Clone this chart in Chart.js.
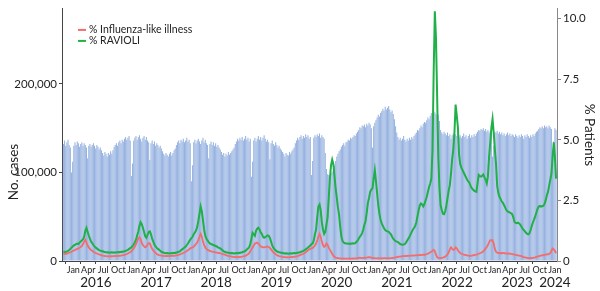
<!DOCTYPE html>
<html>
<head>
<meta charset="utf-8">
<script src="https://cdn.jsdelivr.net/npm/chart.js@4.4.1/dist/chart.umd.min.js"></script>
<style>
  html, body { margin: 0; padding: 0; background: #fff; }
  canvas { display: block; }
</style>
</head>
<body>
<canvas id="chart" width="600" height="291"></canvas>
<script>
// weekly series, first week starts 2 Nov 2015
var firstWeek = Date.UTC(2015, 10, 2);

// No. cases per week, in thousands
var casesK = [
  132,136,130,134,137,131,128, 100,112,
  130,134,131,135,133,129,132,134,130,133,131,128, 116,
  130,132,129,131,133,130,127,131,129,126,128,125,
  122,119,123,121,118,122,120,124,121,125,
  129,131,133,130,134,136,133,137,135,138,140,137,139,141,136, 96,110,
  136,139,141,137,140,142,138,135,139,141,137,140,136,134, 114,
  133,136,132,135,130,133,131,128,130,127,
  124,121,119,122,120,118,121,123,119,122,125,127,
  131,134,136,133,137,135,138,134,136,139,135,137,133, 90,108,
  134,137,133,136,138,135,132,136,139,134,137,133,131, 116,
  132,135,131,134,130,133,129,131,128,126,
  123,120,122,118,121,119,123,120,122,124,126,128,
  132,135,138,136,139,137,140,136,138,141,137,139,135,138, 95,112,
  136,139,135,138,141,137,140,136,139,142,138,135,137,134, 115,
  133,136,132,130,134,131,128,130,127,125,123,
  121,118,122,120,119,123,121,124,126,128,
  133,136,139,137,140,142,138,141,139,143,140,142,138,140, 97,113,
  139,142,140,143,141,144,139,142,140,138,122,104,
  98,97,96,99,101,104,108,113,
  118,121,124,126,129,131,133,130,134,
  135,137,136,139,138,140,142,141,144,146,
  148,151,150,153,152,154,151,155,153,156,154,150, 128,
  152,156,159,162,165,163,167,169,172,170,174,171,
  173,175,171,168,170,166,160,152,145,
  140,137,139,136,138,141,137,135,138,136,139,137,140,138,141,143,
  145,148,147,150,153,151,155,157,156,159,162,160,164,167, 150,
  170,168,166,163,165,158,
  148,145,143,146,144,142,145,141,143,138,142,144,140,143,
  141,143,140,142,139,141,144,140,142,138,141,143,139,142,140,143,141,
  144,146,148,147,149,148,150,147,149,146,148,145,147,144, 118,130,
  146,145,147,144,146,143,145,142,144,141,143,145,142,144,141,143,
  142,140,143,141,139,142,140,143,141,138,142,140,143,141,139,142,140,143,141,144,146,
  147,149,151,150,152,150,153,151,152,150,153,151,149, 120,135,
  150,148
];

// % Influenza-like illness
var iliPct = [
  0.28,0.29,0.30,0.30,0.32,0.34,0.36,0.38,0.40,0.44,0.45,0.48,0.50,0.52,0.55,0.58,0.62,0.70,0.80,0.88,
  0.76,0.64,0.56,0.50,0.45,0.42,0.38,0.35,0.33,0.31,0.29,0.27,0.25,0.24,0.22,
  0.21,0.20,0.20,0.19,0.20,0.19,0.20,0.19,0.20,0.20,0.21,0.20,0.21,0.22,0.21,0.22,0.23,0.24,0.25,0.27,
  0.29,0.31,0.34,0.36,0.40,0.46,
  0.52,0.60,0.70,0.82,0.92,0.98,0.90,0.74,0.66,0.60,0.56,0.60,0.68,0.74,0.72,0.60,0.50,0.44,0.38,0.33,0.29,
  0.26,0.24,0.23,0.22,0.21,0.21,0.20,0.21,0.20,0.21,0.20,0.21,0.21,0.22,0.21,0.22,0.23,0.24,0.25,0.27,
  0.29,0.31,0.33,0.35,0.38,0.41,0.44,0.48,0.52,
  0.54,0.56,0.60,0.64,0.70,0.76,0.86,1.00,1.12,1.00,0.80,0.66,0.56,0.50,0.46,0.44,0.42,0.40,0.39,0.38,
  0.37,0.36,0.35,0.34,0.33,0.32,0.30,0.28,0.27,0.26,
  0.24,0.22,0.21,0.20,0.19,0.18,0.17,0.16,0.17,0.16,0.16,0.17,0.16,0.17,0.18,0.19,0.20,0.22,0.25,0.28,
  0.32,0.40,0.48,0.56,0.64,0.72,0.74,0.76,0.72,0.66,0.60,0.58,0.56,0.56,0.57,0.58,0.60,0.58,0.54,0.48,
  0.42,0.36,0.32,0.28,0.25,0.22,0.20,0.19,0.18,0.17,
  0.16,0.16,0.15,0.16,0.15,0.16,0.16,0.17,0.16,0.17,0.18,0.19,0.20,0.22,0.24,0.26,0.28,0.30,0.33,0.36,
  0.40,0.44,0.48,0.50,0.52,
  0.54,0.58,0.64,0.72,0.84,1.00,1.12,1.00,0.80,0.66,0.58,0.62,0.72,0.66,0.55,0.46,0.38,0.30,0.22,0.17,
  0.14,0.13,0.12,0.11,0.11,0.10,0.10,0.11,0.10,0.10,
  0.10,0.10,0.11,0.10,0.10,0.11,0.10,0.11,0.11,0.12,
  0.13,0.14,0.13,0.12,0.13,0.14,0.13,0.14,0.15,0.16,
  0.15,0.14,0.13,0.12,0.12,0.11,0.11,0.12,0.11,0.11,
  0.12,0.11,0.12,0.12,0.11,0.12,0.12,0.11,0.12,0.12,
  0.13,0.14,0.15,0.16,0.17,0.18,0.18,0.19,0.20,0.20,
  0.21,0.20,0.21,0.22,0.21,0.22,0.22,0.23,0.22,0.23,
  0.24,0.23,0.24,0.25,0.24,0.25,0.26,0.25,0.27,0.28,0.30,0.33,0.36,
  0.38,0.42,0.46,0.40,0.26,0.16,0.13,0.12,0.12,0.13,0.14,0.16,0.18,0.22,0.28,0.36,0.48,0.56,0.50,0.46,
  0.48,0.56,0.52,0.44,0.38,0.33,0.30,
  0.28,0.26,0.25,0.24,0.23,0.22,0.21,0.21,0.22,0.23,0.24,0.25,0.26,0.28,0.30,0.32,0.34,0.36,0.40,0.45,
  0.52,0.58,0.66,0.78,0.86,0.84,0.86,0.72,0.50,0.38,0.34,0.33,0.32,0.33,0.32,
  0.33,0.32,0.31,0.32,0.30,0.31,0.30,0.29,0.28,0.27,0.26,0.25,0.24,0.23,0.22,0.21,0.20,0.18,0.16,0.15,
  0.14,0.13,0.12,0.12,0.13,0.12,0.13,0.14,0.15,0.17,0.18,0.20,0.21,0.22,0.24,0.23,0.25,0.26,0.28,0.27,
  0.30,0.32,0.42,0.52,0.48,0.42,0.32
];

// % RAVIOLI
var ravioliPct = [
  0.36,0.38,0.37,0.40,0.42,0.45,0.50,0.55,0.60,0.64,0.66,0.70,0.72,0.70,0.76,0.80,0.84,0.90,1.00,1.25,
  1.37,1.20,1.05,0.92,0.80,0.74,0.66,0.60,0.55,0.52,0.48,0.45,0.43,0.41,0.40,
  0.38,0.37,0.36,0.35,0.36,0.34,0.35,0.36,0.35,0.34,0.36,0.35,0.36,0.37,0.36,0.38,0.37,0.39,0.40,0.42,
  0.44,0.46,0.50,0.53,0.56,0.62,
  0.68,0.76,0.88,1.05,1.22,1.45,1.60,1.52,1.37,1.20,1.02,0.96,1.08,1.20,1.22,1.10,0.92,0.80,0.68,0.60,0.54,
  0.50,0.46,0.42,0.38,0.36,0.34,0.33,0.32,0.33,0.32,0.31,0.32,0.33,0.32,0.34,0.33,0.35,0.36,0.38,0.40,
  0.44,0.48,0.52,0.56,0.60,0.66,0.72,0.80,0.88,
  0.94,1.00,1.10,1.18,1.26,1.40,1.65,1.95,2.25,2.05,1.70,1.30,1.05,0.92,0.85,0.78,0.72,0.70,0.68,0.66,
  0.64,0.62,0.60,0.56,0.54,0.52,0.48,0.44,0.40,0.38,
  0.36,0.35,0.34,0.33,0.32,0.33,0.32,0.31,0.32,0.33,0.32,0.34,0.33,0.35,0.36,0.38,0.40,0.43,0.47,0.52,
  0.56,0.70,0.92,1.16,1.10,1.04,1.25,1.33,1.37,1.30,1.18,1.12,1.00,0.96,0.98,1.02,1.06,1.04,0.95,0.80,
  0.64,0.55,0.48,0.44,0.40,0.38,0.36,0.35,0.34,0.33,
  0.32,0.31,0.32,0.31,0.30,0.31,0.32,0.31,0.32,0.33,0.32,0.33,0.34,0.35,0.36,0.38,0.40,0.42,0.45,0.48,
  0.52,0.56,0.60,0.64,0.70,
  0.72,0.85,1.10,1.30,1.80,2.25,2.33,2.10,1.60,1.30,1.12,1.20,1.50,1.80,2.60,3.40,3.95,4.18,4.00,3.50,
  3.00,2.60,2.20,1.90,1.40,1.00,0.82,0.76,0.73,0.72,
  0.72,0.71,0.72,0.70,0.72,0.73,0.72,0.74,0.78,0.84,
  0.92,1.00,1.06,1.15,1.30,1.50,1.65,2.00,2.40,2.60,
  2.85,2.95,3.00,3.40,3.75,3.30,2.80,2.30,1.95,1.70,
  1.55,1.45,1.35,1.28,1.24,1.22,1.20,1.15,1.10,1.00,
  0.92,0.86,0.82,0.80,
  0.78,0.74,0.70,0.68,0.67,0.68,0.70,0.76,0.84,0.92,1.00,1.10,1.20,1.30,1.36,1.45,1.60,1.85,2.10,2.30,
  2.37,2.33,2.25,2.35,2.50,2.65,2.85,3.05,3.20,
  3.40,4.60,7.80,10.30,9.20,6.80,4.30,3.00,2.30,2.10,
  1.95,1.93,2.05,2.30,2.60,2.90,3.13,3.60,4.20,4.60,5.30,6.45,6.00,5.50,4.40,4.00,3.85,
  3.75,3.65,3.55,3.45,3.35,3.28,3.22,3.10,3.00,2.95,2.90,2.87,2.85,3.20,3.55,3.50,3.48,3.52,3.57,3.45,
  3.35,3.20,3.50,4.30,4.86,5.50,5.86,5.30,4.60,4.00,3.10,2.80,2.65,2.55,2.45,
  2.40,2.30,2.20,2.10,2.05,2.02,2.00,1.97,1.93,1.80,1.62,1.57,1.56,1.58,1.55,1.50,1.42,1.33,1.28,1.22,
  1.16,1.12,1.10,1.15,1.28,1.45,1.60,1.72,1.85,2.00,2.15,2.25,2.27,2.24,2.26,2.28,2.35,2.50,2.70,2.85,
  3.10,3.35,3.60,4.30,4.90,4.30,3.40
];

// tick labels
var monthLabels = ['Jan', 'Apr', 'Jul', 'Oct'];
var yearLabels = ['2016', '2017', '2018', '2019', '2020', '2021', '2022', '2023', '2024'];
var casesTicks = [0, 100000, 200000];
var pctTicks = [0, 2.5, 5, 7.5, 10];

function decYear(ms) {
  var d = new Date(ms);
  var y = d.getUTCFullYear();
  var s = Date.UTC(y, 0, 1), e = Date.UTC(y + 1, 0, 1);
  return y + (ms - s) / (e - s);
}

var weekX = casesK.map(function(v, i) { return decYear(firstWeek + i * 7 * 864e5); });

var quarterTicks = [];
for (var y = 2016; y <= 2023; y++) {
  for (var m = 0; m < 12; m += 3) quarterTicks.push(decYear(Date.UTC(y, m, 1)));
}
quarterTicks.push(2024);

var yearTicks = yearLabels.map(function(l) {
  var y = parseInt(l, 10);
  return y === 2024 ? 2024 : y + 0.375;
});

function pts(arr, scale) {
  return arr.map(function(v, i) { return {x: weekX[i], y: v * scale}; });
}

function fixedTicks(list) {
  return function(s) { s.ticks = list.map(function(v) { return {value: v}; }); };
}

Chart.defaults.font.family = 'Lato, "Liberation Sans", sans-serif';
Chart.defaults.color = '#222';

var axisTitles = {
  id: 'axisTitles',
  afterDraw: function(chart) {
    var ctx = chart.ctx, a = chart.chartArea;
    ctx.save();
    ctx.fillStyle = '#222';
    ctx.font = '13.5px Lato, sans-serif';
    ctx.textAlign = 'center';
    ctx.textBaseline = 'middle';
    ctx.translate(14, 172);
    ctx.rotate(-Math.PI / 2);
    ctx.fillText('No. cases', 0, 0);
    ctx.restore();

    ctx.save();
    ctx.fillStyle = '#222';
    ctx.font = '13.5px Lato, sans-serif';
    ctx.textAlign = 'center';
    ctx.textBaseline = 'middle';
    ctx.translate(589, (a.top + a.bottom) / 2);
    ctx.rotate(Math.PI / 2);
    ctx.fillText('% Patients', 0, 0);
    ctx.restore();

    // legend for the two lines
    ctx.save();
    ctx.font = '10.5px Lato, sans-serif';
    ctx.textBaseline = 'middle';
    var ly = a.top + 21;
    chart.data.datasets.forEach(function(ds) {
      if (ds.type !== 'line') return;
      ctx.strokeStyle = ds.borderColor;
      ctx.lineWidth = 2;
      ctx.beginPath();
      ctx.moveTo(a.left + 16, ly);
      ctx.lineTo(a.left + 24, ly);
      ctx.stroke();
      ctx.fillStyle = '#222';
      ctx.fillText(ds.label, a.left + 27, ly);
      ly += 11;
    });
    ctx.restore();
  }
};

new Chart(document.getElementById('chart'), {
  type: 'bar',
  data: {
    datasets: [
      {
        type: 'line',
        label: '% Influenza-like illness',
        data: pts(iliPct, 1),
        yAxisID: 'y2',
        borderColor: 'rgb(244,108,108)',
        borderWidth: 1.8,
        pointRadius: 0,
        order: 0
      },
      {
        type: 'line',
        label: '% RAVIOLI',
        data: pts(ravioliPct, 1),
        yAxisID: 'y2',
        borderColor: 'rgb(32,176,72)',
        borderWidth: 2,
        pointRadius: 0,
        order: 0
      },
      {
        type: 'bar',
        label: 'No. cases',
        data: pts(casesK, 1000),
        yAxisID: 'y',
        backgroundColor: 'rgb(150,178,224)',
        barPercentage: 0.9,
        categoryPercentage: 1,
        order: 1
      }
    ]
  },
  options: {
    responsive: false,
    animation: false,
    devicePixelRatio: 1,
    layout: { padding: { top: 3, left: 0, right: 0, bottom: 0 } },
    plugins: { legend: { display: false }, tooltip: { enabled: false } },
    scales: {
      x: {
        type: 'linear',
        position: 'bottom',
        weight: 0,
        min: 2015.812,
        max: 2024.035,
        offset: false,
        afterBuildTicks: fixedTicks(quarterTicks),
        afterFit: function(s) { s.height = 14; },
        ticks: {
          autoSkip: false, maxRotation: 0, padding: 1,
          font: { size: 9 },
          callback: function(v, i) { return monthLabels[i % 4]; }
        },
        grid: { drawOnChartArea: false, tickLength: 3, color: '#444' },
        border: { display: true, color: '#444' }
      },
      x2: {
        type: 'linear',
        position: 'bottom',
        weight: 1,
        min: 2015.812,
        max: 2024.035,
        offset: false,
        afterBuildTicks: fixedTicks(yearTicks),
        afterFit: function(s) { s.height = 16; },
        ticks: {
          autoSkip: false, maxRotation: 0, padding: 0,
          font: { size: 13.5 },
          callback: function(v, i) { return yearLabels[i]; }
        },
        grid: { display: false, drawTicks: false },
        border: { display: false }
      },
      y: {
        position: 'left',
        min: 0,
        max: 284600,
        afterBuildTicks: fixedTicks(casesTicks),
        afterFit: function(s) { s.width = 62; },
        ticks: {
          padding: 2,
          font: { size: 11.5 },
          callback: function(v) { return v.toLocaleString('en-US'); }
        },
        grid: { drawOnChartArea: false, tickLength: 3, color: '#444' },
        border: { display: true, color: '#444' }
      },
      y2: {
        position: 'right',
        min: 0,
        max: 10.4,
        afterBuildTicks: fixedTicks(pctTicks),
        afterFit: function(s) { s.width = 43; },
        ticks: {
          padding: 2,
          font: { size: 11.5 },
          callback: function(v) { return v === 0 ? '0' : v.toFixed(1); }
        },
        grid: { drawOnChartArea: false, tickLength: 4, color: '#888' },
        border: { display: true, color: '#888' }
      }
    }
  },
  plugins: [axisTitles]
});
</script>
</body>
</html>
